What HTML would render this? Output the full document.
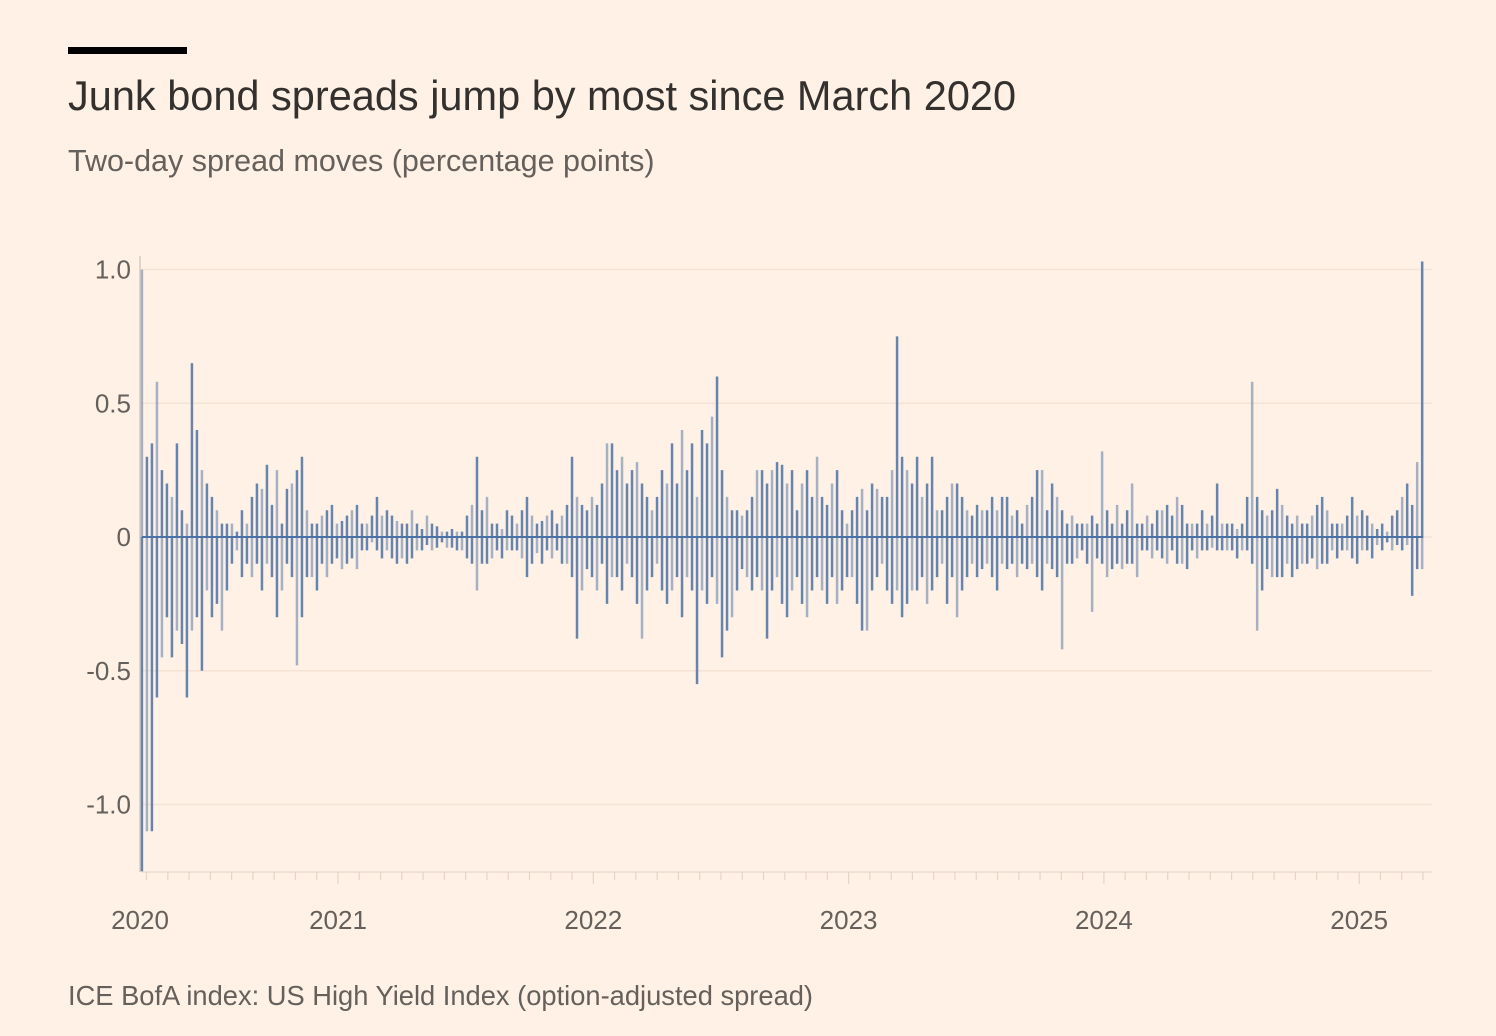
<!DOCTYPE html>
<html><head><meta charset="utf-8">
<style>
html,body{margin:0;padding:0;background:#fff1e5;}
body{width:1496px;height:1036px;position:relative;overflow:hidden;font-family:"Liberation Sans",sans-serif;}
.t{position:absolute;white-space:nowrap;}
</style></head>
<body>
<div style="position:absolute;left:68px;top:47px;width:119px;height:7px;background:#000;"></div>
<div class="t" style="left:68px;top:72px;font-size:41.5px;color:#33302e;">Junk bond spreads jump by most since March 2020</div>
<div class="t" style="left:68px;top:144px;font-size:30.5px;color:#66605c;">Two-day spread moves (percentage points)</div>
<div class="t" style="left:68px;top:980px;font-size:27.3px;color:#66605c;">ICE BofA index: US High Yield Index (option-adjusted spread)</div>
<svg id="chart" width="1496" height="1036" style="position:absolute;left:0;top:0;"></svg>
<script>
const yTicks=[1.0,0.5,0,-0.5,-1.0];
const yTickLabels=["1.0","0.5","0","-0.5","-1.0"];
const xYears=[2020,2021,2022,2023,2024,2025];
const xYearLabels=["2020","2021","2022","2023","2024","2025"];
const startYear=2020.232;
const weeksPerYear=51.05;
const upMoves=[1.0,.3,.35,.58,.25,.2,.15,.35,.1,.05,.65,.4,.25,.2,.15,.1,.05,.05,.05,.02,
.1,.05,.15,.2,.18,.27,.12,.25,.05,.18,.2,.25,.3,.1,.05,.05,.08,.1,.12,.05,
.06,.08,.1,.12,.05,.05,.08,.15,.08,.1,.08,.06,.05,.05,.1,.05,.03,.08,.05,.04,
.02,.02,.03,.02,.02,.08,.12,.3,.1,.15,.05,.05,.03,.1,.08,.05,.1,.15,.08,.05,
.06,.08,.1,.05,.08,.12,.3,.15,.12,.1,.15,.12,.2,.35,.35,.25,.3,.2,.25,.28,
.2,.15,.1,.15,.25,.2,.35,.2,.4,.25,.35,.15,.4,.35,.45,.6,.25,.15,.1,.1,
.08,.1,.15,.25,.25,.2,.25,.28,.27,.2,.25,.1,.2,.25,.15,.3,.15,.12,.2,.25,
.1,.05,.1,.15,.18,.1,.2,.18,.15,.15,.25,.75,.3,.25,.2,.3,.15,.2,.3,.1,
.1,.15,.2,.2,.15,.1,.08,.12,.1,.1,.15,.1,.15,.15,.08,.1,.05,.12,.15,.25,
.25,.1,.2,.15,.1,.05,.08,.05,.05,.05,.08,.05,.32,.1,.05,.12,.05,.1,.2,.05,
.05,.08,.05,.1,.1,.12,.08,.15,.12,.05,.05,.05,.1,.05,.08,.2,.05,.05,.05,.03,
.05,.15,.58,.15,.1,.08,.1,.18,.12,.08,.05,.08,.05,.05,.08,.12,.15,.1,.05,.05,
.05,.08,.15,.08,.1,.08,.05,.03,.05,.02,.08,.1,.15,.2,.12,.28,1.03];
const downMoves=[-1.25,-1.1,-1.1,-.6,-.45,-.3,-.45,-.35,-.4,-.6,-.35,-.3,-.5,-.2,-.3,-.25,-.35,-.2,-.1,-.05,
-.15,-.1,-.15,-.1,-.2,-.1,-.15,-.3,-.2,-.1,-.15,-.48,-.3,-.15,-.15,-.2,-.1,-.15,-.1,-.08,
-.12,-.1,-.08,-.12,-.05,-.05,-.02,-.05,-.08,-.05,-.08,-.1,-.08,-.1,-.08,-.05,-.05,-.03,-.05,-.04,
-.02,-.04,-.04,-.05,-.05,-.08,-.1,-.2,-.1,-.1,-.08,-.05,-.08,-.05,-.05,-.05,-.08,-.15,-.1,-.06,
-.1,-.05,-.08,-.05,-.1,-.1,-.15,-.38,-.2,-.12,-.15,-.2,-.1,-.25,-.15,-.15,-.2,-.1,-.15,-.25,
-.38,-.2,-.15,-.1,-.2,-.25,-.2,-.15,-.3,-.15,-.2,-.55,-.2,-.25,-.15,-.25,-.45,-.35,-.3,-.2,
-.12,-.15,-.2,-.15,-.2,-.38,-.2,-.15,-.25,-.3,-.2,-.15,-.25,-.3,-.2,-.15,-.2,-.25,-.15,-.25,
-.2,-.15,-.15,-.25,-.35,-.35,-.2,-.15,-.1,-.2,-.25,-.2,-.3,-.25,-.2,-.2,-.15,-.25,-.2,-.15,
-.1,-.25,-.15,-.3,-.2,-.15,-.1,-.15,-.12,-.1,-.15,-.2,-.1,-.12,-.1,-.15,-.1,-.12,-.1,-.15,
-.2,-.1,-.12,-.15,-.42,-.1,-.1,-.08,-.05,-.1,-.28,-.08,-.1,-.15,-.12,-.1,-.12,-.1,-.1,-.15,
-.05,-.05,-.08,-.05,-.08,-.1,-.05,-.1,-.1,-.12,-.05,-.08,-.05,-.05,-.04,-.05,-.05,-.05,-.05,-.08,
-.05,-.05,-.1,-.35,-.2,-.12,-.15,-.15,-.15,-.1,-.15,-.12,-.1,-.1,-.08,-.12,-.1,-.1,-.05,-.08,
-.05,-.05,-.08,-.1,-.05,-.05,-.08,-.03,-.05,-.02,-.05,-.03,-.05,-.03,-.22,-.12,-.12];

const NS="http://www.w3.org/2000/svg";
const svg=document.getElementById('chart');
const plotL=142,plotR=1432,plotT=256,plotB=872;
function y(v){return 537-v*267.5;}
function xYear(yr){return 338+(yr-2021)*255.3;}
function xWeek(i){return xYear(startYear+i/weeksPerYear);}
function mk(tag,attrs){const e=document.createElementNS(NS,tag);for(const k in attrs)e.setAttribute(k,attrs[k]);svg.appendChild(e);return e;}

yTicks.forEach((v,i)=>{
  const g=mk('line',{x1:plotL,x2:plotR,y1:y(v),y2:y(v),stroke:'#f6e3d5','stroke-width':1.5});
  
  
  const t=mk('text',{x:131,y:y(v)+9,'text-anchor':'end','font-size':26,fill:'#66605c','font-family':'Liberation Sans, sans-serif'});
  t.textContent=yTickLabels[i];
  
  
});
const ax=mk('line',{x1:140,x2:140,y1:plotT,y2:plotB,stroke:'#d9cbc0','stroke-width':1.5});


const xax=mk('line',{x1:plotL,x2:plotR,y1:plotB,y2:plotB,stroke:'#ecdccf','stroke-width':1.5});


for(let m=Math.ceil(startYear*12);m<=2025.3*12;m++){
  const xx=xYear(m/12);
  const tk=mk('line',{x1:xx,x2:xx,y1:plotB,y2:plotB+(m%12===0?12:8),stroke:'#e6d4c6','stroke-width':1.2});
  
  
}
xYears.forEach((yr,i)=>{
  const xx=Math.max(xYear(yr),plotL-2);
  const t=mk('text',{x:xx,y:929,'text-anchor':'middle','font-size':26,fill:'#66605c','font-family':'Liberation Sans, sans-serif'});
  t.textContent=xYearLabels[i];
  
  
});
upMoves.forEach((v,i)=>{
  const xx=xWeek(i);
  const b=mk('rect',{x:xx-1.25,y:y(v),width:2.5,height:y(0)-y(v),fill:'#4a72a6','fill-opacity':(i%3===0?0.5:0.85)});
  
  
});
downMoves.forEach((v,i)=>{
  const xx=xWeek(i);
  const b=mk('rect',{x:xx-1.25,y:y(0),width:2.5,height:y(v)-y(0),fill:'#4a72a6','fill-opacity':(i%3===1?0.5:0.85)});
  
  
});
const z=mk('line',{x1:plotL,x2:xWeek(upMoves.length-1)+1,y1:y(0),y2:y(0),stroke:'#4a72a6','stroke-width':2});


</script>
</body></html>
